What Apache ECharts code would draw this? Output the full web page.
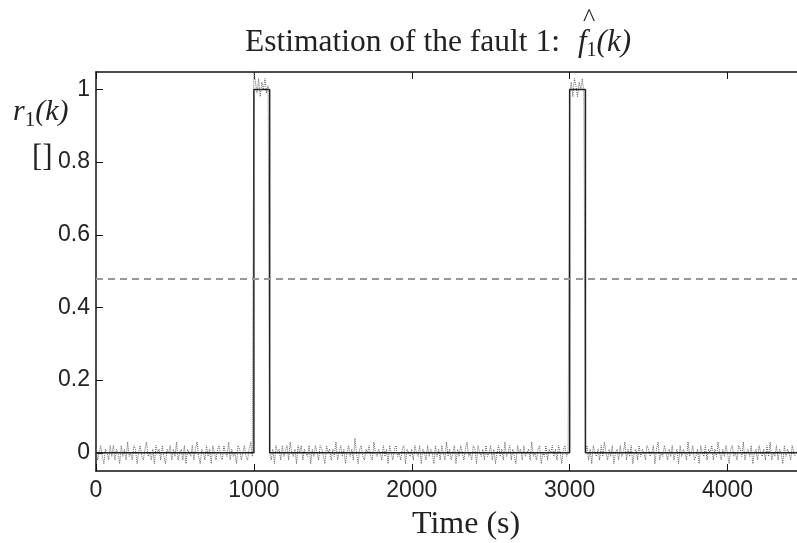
<!DOCTYPE html>
<html>
<head>
<meta charset="utf-8">
<script src="https://cdn.jsdelivr.net/npm/echarts@6/dist/echarts.min.js"></script>
<style>
html,body{margin:0;padding:0;background:#fff;}
#main{width:797px;height:543px;}
</style>
</head>
<body>
<div id="main"></div>
<script>
// tick labels
var xTicks = [0, 1000, 2000, 3000, 4000];
var yTicks = [0, 0.2, 0.4, 0.6, 0.8, 1];

// fault 1 (black step line): [time, value]
var faultTimes = [0, 1000, 1000, 1100, 1100, 3000, 3000, 3100, 3100, 4440];
var faultValues = [0, 0, 1, 1, 0, 0, 1, 1, 0, 0];

// threshold (dashed grey)
var threshold = 0.48;

// estimated fault, one sample every 10 s
var sampleStep = 10;
var estimate = [
	0.01,-0.02,0.00,0.02,-0.01,-0.03,0.01,0.00,-0.02,0.02,
	-0.01,0.02,-0.02,0.01,0.00,-0.03,0.02,-0.01,0.01,-0.02,
	0.03,-0.01,0.00,-0.02,0.02,0.01,-0.03,0.00,0.02,-0.01,
	-0.02,0.01,0.03,-0.01,0.00,-0.02,0.01,-0.03,0.02,0.00,
	0.01,-0.02,0.02,-0.01,-0.03,0.01,0.00,0.02,-0.02,0.01,
	-0.01,0.03,-0.02,0.00,0.01,-0.02,0.02,-0.03,0.01,0.00,
	-0.01,0.02,-0.02,0.01,0.03,-0.01,-0.03,0.01,0.00,-0.02,
	0.02,-0.01,0.01,-0.03,0.02,0.00,-0.02,0.01,0.02,-0.01,
	-0.02,0.02,0.00,-0.01,0.03,-0.02,0.01,-0.01,0.00,-0.03,
	0.02,0.01,-0.02,0.00,0.02,-0.01,-0.02,0.01,0.03,-0.01,
	1.05,1.02,0.99,1.03,0.98,1.02,1.00,1.03,0.99,1.01,
	0.00,-0.02,0.01,-0.03,0.02,0.00,0.01,-0.02,0.02,-0.01,
	-0.01,0.02,-0.02,0.03,0.00,-0.01,0.01,-0.03,0.02,0.00,
	0.02,-0.02,0.01,0.00,-0.01,0.02,-0.03,0.01,-0.01,0.02,
	0.00,-0.02,0.02,0.01,-0.01,-0.03,0.02,0.00,0.01,-0.02,
	0.01,-0.01,0.03,-0.02,0.00,0.02,-0.01,0.01,-0.03,0.00,
	0.02,-0.01,0.01,-0.02,0.04,0.00,-0.03,0.01,0.02,-0.01,
	-0.02,0.01,0.00,0.02,-0.01,-0.02,0.03,0.00,-0.01,0.01,
	0.00,-0.02,0.02,-0.01,0.01,-0.03,0.02,0.00,-0.02,0.01,
	0.02,-0.01,0.00,-0.02,0.01,0.02,-0.03,0.01,0.00,-0.01,
	0.01,-0.02,0.02,0.00,-0.01,0.02,-0.03,0.01,0.00,-0.02,
	0.02,-0.01,0.01,0.00,-0.03,0.02,-0.01,0.01,-0.02,0.02,
	0.00,-0.02,0.03,-0.01,0.01,-0.02,0.00,0.02,-0.03,0.01,
	-0.01,0.02,0.00,-0.02,0.01,0.03,-0.01,0.00,-0.02,0.02,
	0.01,-0.03,0.02,0.00,-0.01,0.01,-0.02,0.02,-0.01,0.00,
	0.02,-0.02,0.01,-0.03,0.00,0.02,-0.01,0.01,-0.02,0.03,
	-0.01,0.00,0.02,-0.02,0.01,-0.01,-0.03,0.02,0.00,0.01,
	-0.02,0.02,-0.01,0.00,0.01,-0.02,0.03,-0.01,0.00,-0.02,
	0.01,0.02,-0.03,0.00,-0.01,0.02,-0.02,0.01,0.00,0.02,
	-0.01,0.01,-0.02,0.02,0.00,-0.03,0.01,0.02,-0.01,0.00,
	0.99,1.02,0.98,1.03,1.01,0.98,1.02,1.00,1.03,0.99,
	0.00,0.02,-0.02,0.01,-0.03,0.02,0.00,-0.01,0.01,-0.02,
	0.02,-0.01,0.03,0.00,-0.02,0.01,-0.01,0.02,-0.03,0.00,
	0.01,-0.02,0.02,-0.01,0.00,0.03,-0.02,0.01,-0.01,0.02,
	-0.03,0.00,0.01,-0.02,0.02,-0.01,0.01,0.00,-0.02,0.02,
	0.01,-0.01,0.00,0.02,-0.03,0.01,0.03,-0.02,0.00,-0.01,
	0.02,0.00,-0.02,0.01,-0.01,0.02,-0.02,0.00,0.01,-0.03,
	0.02,-0.01,0.01,0.00,-0.02,0.03,-0.01,0.00,0.02,-0.02,
	-0.01,0.01,-0.03,0.02,0.00,-0.01,0.02,-0.02,0.01,0.00,
	0.02,-0.02,0.01,-0.01,0.03,0.00,-0.02,0.01,-0.01,0.02,
	0.00,-0.03,0.01,0.02,-0.01,0.00,-0.02,0.02,0.01,-0.01,
	0.03,-0.02,0.00,0.01,-0.01,0.02,-0.03,0.00,0.01,-0.02,
	0.02,0.00,-0.01,0.01,-0.02,0.02,-0.01,0.03,-0.02,0.00,
	-0.01,0.02,-0.02,0.01,0.00,-0.03,0.02,-0.01,0.01,0.00,
	-0.02,0.02,0.00,-0.01
];

var estData = estimate.map(function(v, i){ return [i * sampleStep, v]; });
var faultData = faultTimes.map(function(t, i){ return [t, faultValues[i]]; });

var serif = '"Liberation Serif", "DejaVu Serif", serif';
var sans = '"Liberation Sans", Arial, sans-serif';
var plainNum = function(v){ return String(v); };

var myChart = echarts.init(document.getElementById('main'));
var option = {
	animation: false,
	backgroundColor: '#fff',
	grid: { left: 96, right: 0, top: 72, bottom: 72 },
	xAxis: [
		{
			type: 'value',
			min: 0,
			max: 4440,
			position: 'bottom',
			axisLine: { show: true, onZero: false, lineStyle: { color: '#111', width: 1.5 } },
			axisTick: { show: true, inside: true, length: 7, customValues: xTicks, lineStyle: { color: '#111' } },
			axisLabel: { customValues: xTicks, formatter: plainNum, color: '#222', fontFamily: sans, fontSize: 23, margin: 8 },
			splitLine: { show: false }
		},
		{
			type: 'value',
			min: 0,
			max: 4440,
			position: 'top',
			axisLine: { show: true, onZero: false, lineStyle: { color: '#111', width: 1.5 } },
			axisTick: { show: true, inside: true, length: 7, customValues: xTicks, lineStyle: { color: '#111' } },
			axisLabel: { show: false },
			splitLine: { show: false }
		}
	],
	yAxis: {
		type: 'value',
		min: -0.05,
		max: 1.048,
		axisLine: { show: true, onZero: false, lineStyle: { color: '#111', width: 1.5 } },
		axisTick: { show: true, inside: true, length: 7, customValues: yTicks, lineStyle: { color: '#111' } },
		axisLabel: { customValues: yTicks, formatter: plainNum, color: '#222', fontFamily: sans, fontSize: 23, margin: 6 },
		splitLine: { show: false }
	},
	series: [
		{
			name: 'estimate',
			type: 'line',
			data: estData,
			symbol: 'none',
			lineStyle: { color: '#666', width: 1, type: [1, 1] },
			z: 2
		},
		{
			name: 'fault',
			type: 'line',
			data: faultData,
			symbol: 'none',
			lineStyle: { color: '#222', width: 1.5 },
			z: 3,
			markLine: {
				silent: true,
				symbol: 'none',
				label: { show: false },
				lineStyle: { color: '#999', width: 2, type: [7, 5] },
				data: [{ yAxis: threshold }]
			}
		}
	],
	graphic: [
		{
			type: 'text', left: 245, top: 27,
			style: { text: 'Estimation of the fault 1:', font: '31.5px ' + serif, fill: '#222' }
		},
		{
			type: 'text', left: 578, top: 27,
			style: {
				text: '{i|f}{s|1}{i|(k)}',
				fill: '#222',
				rich: {
					i: { font: 'italic 31px ' + serif, fill: '#222' },
					s: { font: '20px ' + serif, fill: '#222', padding: [16, 0, 0, 0] }
				}
			}
		},
		{
			type: 'text', left: 583, top: 6,
			style: { text: '^', font: '26px ' + serif, fill: '#222' }
		},
		{
			type: 'text', left: 13, top: 97,
			style: {
				text: '{i|r}{s|1}{i|(k)}',
				fill: '#222',
				rich: {
					i: { font: 'italic 30px ' + serif, fill: '#222' },
					s: { font: '21px ' + serif, fill: '#222', padding: [16, 0, 0, 0] }
				}
			}
		},
		{
			type: 'text', left: 32, top: 142,
			style: { text: '[]', font: '31px ' + serif, fill: '#222' }
		},
		{
			type: 'text', left: 412, top: 509,
			style: { text: 'Time (s)', font: '32px ' + serif, fill: '#222' }
		}
	]
};
myChart.setOption(option);
</script>
</body>
</html>
